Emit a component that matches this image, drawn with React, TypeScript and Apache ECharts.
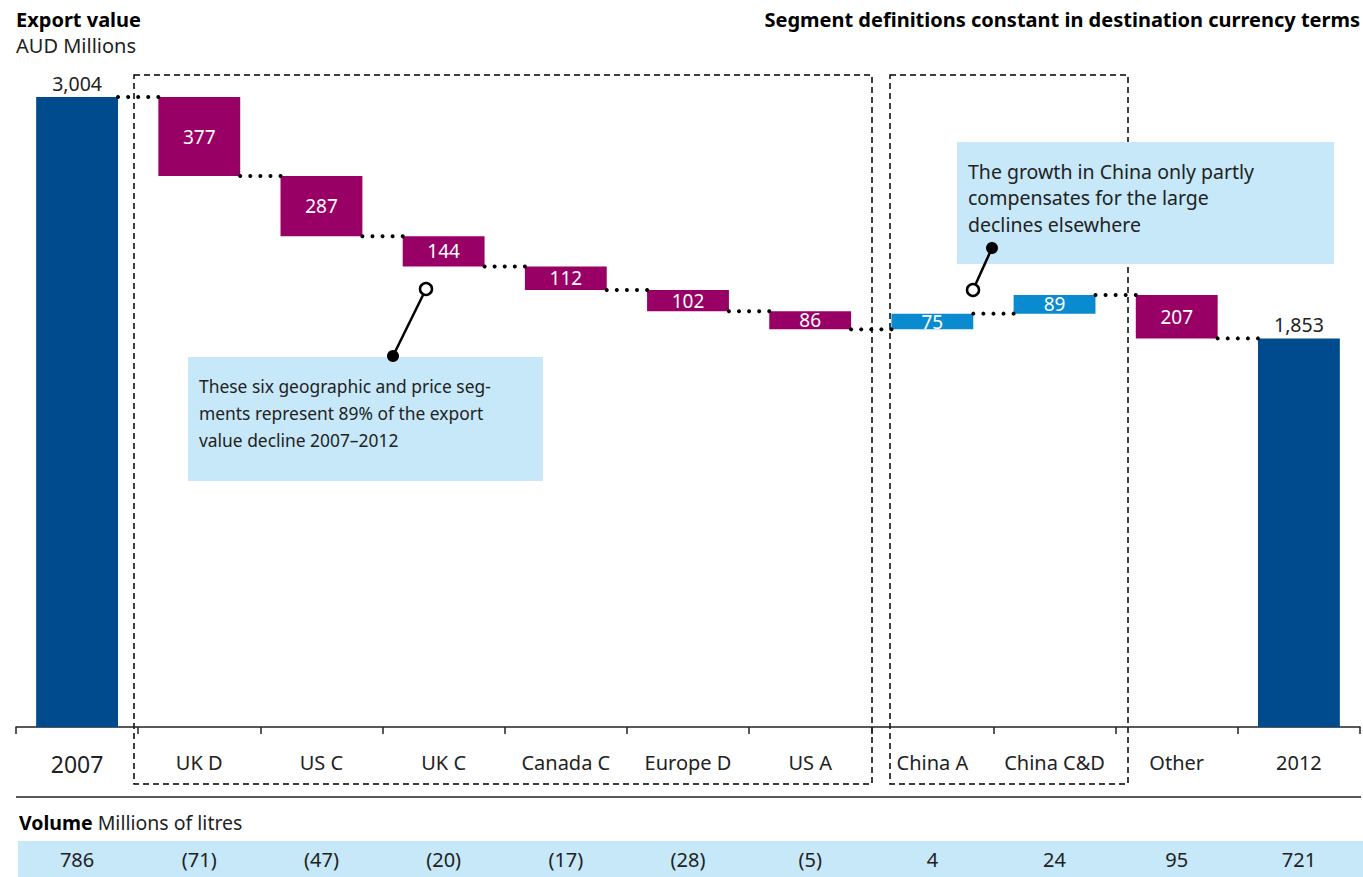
import React, { useEffect, useRef } from "react";
import * as echarts from "echarts";

const categories = ["2007", "UK D", "US C", "UK C", "Canada C", "Europe D", "US A", "China A", "China C&D", "Other", "2012"];
const changes = [3004, -377, -287, -144, -112, -102, -86, 75, 89, -207, 1853];
const isTotal = [true, false, false, false, false, false, false, false, false, false, true];
const volumes = ["786", "(71)", "(47)", "(20)", "(17)", "(28)", "(5)", "4", "24", "95", "721"];

const FONT = "'Noto Sans', 'Open Sans', sans-serif";
const C_TOTAL = "#004B8D";
const C_DEC = "#990066";
const C_INC = "#0A8BD0";
const C_LIGHT = "#C6E8F8";
const C_TEXT = "#222";

function App() {
  const ref = useRef<HTMLDivElement>(null);
  useEffect(() => {
    if (!ref.current) return;
    const chart = echarts.init(ref.current, null, { renderer: "svg" });

    const bases: number[] = [];
    const heights: any[] = [];
    const levels: number[] = [];
    let running = 0;
    changes.forEach((v, i) => {
      let base = 0;
      let h = 0;
      let color = C_TOTAL;
      if (isTotal[i]) {
        base = 0; h = v; running = v; color = C_TOTAL;
      } else if (v < 0) {
        running += v; base = running; h = -v; color = C_DEC;
      } else {
        base = running; h = v; running += v; color = C_INC;
      }
      bases.push(base);
      levels.push(running);
      heights.push({
        value: h,
        itemStyle: { color },
        label: isTotal[i]
          ? { show: true, position: "top", distance: 4, color: C_TEXT, fontSize: 19.5, fontFamily: FONT,
              formatter: () => v.toLocaleString("en-US") }
          : { show: true, position: "inside", color: "#fff", fontSize: 19, fontFamily: FONT,
              formatter: () => String(Math.abs(v)) },
      });
    });
    const connectorData = levels.slice(0, -1).map((lv, i) => [i, lv]);
    const BAR_RATIO = 0.67;

    const option: any = {
      animation: false,
      textStyle: { fontFamily: FONT },
      grid: [
        { left: 16, right: 3, top: 97, bottom: 150 },
        { left: 16, right: 3, top: 841, height: 36 },
      ],
      xAxis: [
        {
          type: "category",
          data: categories,
          gridIndex: 0,
          axisLine: { show: true, lineStyle: { color: "#222", width: 1.5 } },
          axisTick: { show: true, interval: 0, length: 7, lineStyle: { color: "#222", width: 1.5 } },
          axisLabel: {
            interval: 0,
            hideOverlap: false,
            color: C_TEXT,
            fontSize: 20,
            fontFamily: FONT,
            margin: 25,
            formatter: (val: string, idx: number) => (idx === 0 ? "{big|" + val + "}" : val),
            rich: { big: { fontSize: 23, fontFamily: FONT, color: C_TEXT } },
          },
        },
        { type: "category", data: categories, gridIndex: 1, show: false },
      ],
      yAxis: [
        { type: "value", min: 0, max: 3004, show: false, gridIndex: 0 },
        { type: "value", min: 0, max: 1, show: false, gridIndex: 1 },
      ],
      series: [
        {
          type: "bar", stack: "w", data: bases, barWidth: BAR_RATIO * 100 + "%",
          itemStyle: { color: "transparent" }, silent: true,
        },
        { type: "bar", stack: "w", data: heights, barWidth: BAR_RATIO * 100 + "%" },
        {
          type: "custom",
          data: connectorData,
          z: 5,
          renderItem: (params: any, api: any) => {
            const c = api.coord([api.value(0), api.value(1)]);
            const band = api.size([1, 0])[0];
            const bw = band * BAR_RATIO;
            const x1 = c[0] + bw / 2;
            const x2 = c[0] + band - bw / 2;
            const n = Math.round((x2 - x1) / 10) + 1;
            const children: any[] = [];
            for (let k = 0; k < n; k++) {
              children.push({
                type: "circle",
                shape: { cx: x1 + ((x2 - x1) * k) / (n - 1), cy: c[1], r: 2 },
                style: { fill: "#000" },
              });
            }
            return { type: "group", children };
          },
        },
        {
          type: "custom",
          xAxisIndex: 1,
          yAxisIndex: 1,
          data: volumes.map((v, i) => [i, 0.5, v]),
          renderItem: (params: any, api: any) => {
            const c = api.coord([api.value(0), api.value(1)]);
            return {
              type: "text",
              x: c[0],
              y: c[1],
              style: {
                text: volumes[params.dataIndex],
                fill: C_TEXT,
                font: `20px ${FONT}`,
                align: "center",
                verticalAlign: "middle",
              },
            };
          },
        },
      ],
      graphic: [
        { type: "text", left: 16, top: 9, style: { text: "Export value", font: `bold 20px ${FONT}`, fill: "#000" } },
        { type: "text", left: 16, top: 35, style: { text: "AUD Millions", font: `20px ${FONT}`, fill: C_TEXT } },
        {
          type: "text", right: 3, top: 9,
          style: { text: "Segment definitions constant in destination currency terms", font: `bold 20px ${FONT}`, fill: "#000" },
        },
        {
          type: "rect", shape: { x: 134, y: 75, width: 738, height: 709 },
          style: { fill: "none", stroke: "#000", lineWidth: 1.5, lineDash: [6, 4] }, z: 0,
        },
        {
          type: "rect", shape: { x: 890, y: 75, width: 238, height: 709 },
          style: { fill: "none", stroke: "#000", lineWidth: 1.5, lineDash: [6, 4] }, z: 0,
        },
        { type: "line", shape: { x1: 16, y1: 797, x2: 1361, y2: 797 }, style: { stroke: "#222", lineWidth: 1.5 } },
        {
          type: "text", left: 19, top: 812,
          style: {
            text: "{b|Volume} Millions of litres",
            font: `19.5px ${FONT}`, fill: C_TEXT,
            rich: { b: { fontWeight: "bold", fontSize: 19.5, fontFamily: FONT, fill: "#000" } },
          },
        },
        { type: "rect", shape: { x: 18, y: 841, width: 1345, height: 36 }, style: { fill: C_LIGHT }, z: -1 },
        // callout 1
        { type: "rect", shape: { x: 188, y: 357, width: 355, height: 124 }, style: { fill: C_LIGHT }, z: 20 },
        {
          type: "text", x: 199, y: 372, z: 21,
          style: {
            text: "These six geographic and price seg-\nments represent 89% of the export\nvalue decline 2007\u20132012",
            font: `17.4px ${FONT}`, fill: C_TEXT, lineHeight: 27,
          },
        },
        { type: "line", shape: { x1: 393, y1: 356, x2: 426, y2: 289 }, style: { stroke: "#000", lineWidth: 2.5 }, z: 22 },
        { type: "circle", shape: { cx: 393, cy: 356, r: 6 }, style: { fill: "#000" }, z: 22 },
        { type: "circle", shape: { cx: 426, cy: 289, r: 6 }, style: { fill: "#fff", stroke: "#000", lineWidth: 2.5 }, z: 22 },
        // callout 2
        { type: "rect", shape: { x: 957, y: 142, width: 377, height: 122 }, style: { fill: C_LIGHT }, z: 20 },
        {
          type: "text", x: 968, y: 158, z: 21,
          style: {
            text: "The growth in China only partly\ncompensates for the large\ndeclines elsewhere",
            font: `19.5px ${FONT}`, fill: C_TEXT, lineHeight: 26.5,
          },
        },
        { type: "line", shape: { x1: 992, y1: 248, x2: 973, y2: 290 }, style: { stroke: "#000", lineWidth: 2.5 }, z: 22 },
        { type: "circle", shape: { cx: 992, cy: 248, r: 6 }, style: { fill: "#000" }, z: 22 },
        { type: "circle", shape: { cx: 973, cy: 290, r: 6 }, style: { fill: "#fff", stroke: "#000", lineWidth: 2.5 }, z: 22 },
      ],
    };
    chart.setOption(option);
    return () => chart.dispose();
  }, []);

  return (
    <div
      ref={ref}
      style={{ position: "absolute", left: 0, top: 0, width: 1363, height: 877, background: "#fff" }}
    />
  );
}

export default App;
